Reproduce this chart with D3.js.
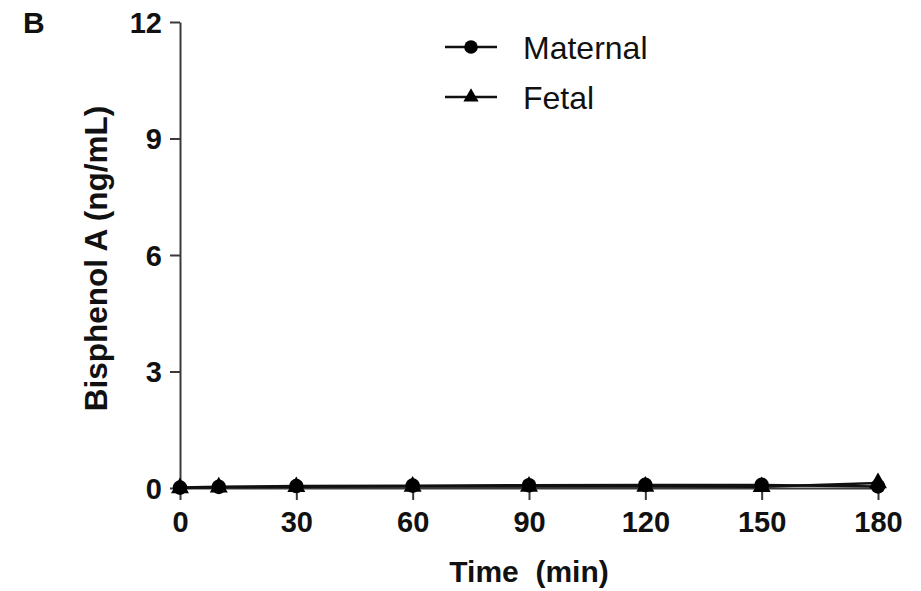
<!DOCTYPE html>
<html>
<head>
<meta charset="utf-8">
<script src="https://cdn.jsdelivr.net/npm/d3@7"></script>
<style>
  html, body { margin: 0; padding: 0; background: #fff; }
  svg { display: block; font-family: "Liberation Sans", Arial, sans-serif; }
</style>
</head>
<body>
<svg id="chart" width="921" height="591"></svg>
<script>
// Bisphenol A concentration over time (ng/mL)
const timePoints = [0, 10, 30, 60, 90, 120, 150, 180];
const maternal   = [0.01, 0.03, 0.05, 0.06, 0.07, 0.08, 0.08, 0.04];
const fetal      = [0.00, 0.02, 0.03, 0.04, 0.04, 0.04, 0.03, 0.13];
const xTicks = [0, 30, 60, 90, 120, 150, 180];
const yTicks = [0, 3, 6, 9, 12];
const seriesNames = ["Maternal", "Fetal"];

const svg = d3.select("#chart");
svg.append("rect").attr("width", 921).attr("height", 591).attr("fill", "#fff");

const x = d3.scaleLinear().domain([0, 180]).range([180, 878]);
const y = d3.scaleLinear().domain([0, 12]).range([488, 22]);

const axisColor = "#3a3a3a";
const textColor = "#111";

// y axis
const yAxis = svg.append("g")
  .attr("transform", `translate(${x(0)},0)`)
  .call(d3.axisLeft(y).tickValues(yTicks).tickSize(10).tickPadding(8).tickSizeOuter(0));
yAxis.select(".domain").attr("stroke", axisColor).attr("stroke-width", 2);
yAxis.selectAll(".tick line").attr("stroke", axisColor).attr("stroke-width", 2);
yAxis.selectAll(".tick text")
  .attr("font-size", 29).attr("font-weight", "bold").attr("fill", textColor)
  .attr("dy", "0.36em");

// x axis
const xAxis = svg.append("g")
  .attr("transform", `translate(0,${y(0)})`)
  .call(d3.axisBottom(x).tickValues(xTicks).tickSize(12).tickPadding(11).tickSizeOuter(0));
xAxis.select(".domain").attr("stroke", axisColor).attr("stroke-width", 2);
xAxis.selectAll(".tick line").attr("stroke", axisColor).attr("stroke-width", 2);
xAxis.selectAll(".tick text")
  .attr("font-size", 29).attr("font-weight", "bold").attr("fill", textColor);

// axis titles
svg.append("text")
  .attr("x", x(90)).attr("y", 582)
  .attr("text-anchor", "middle")
  .attr("font-size", 30).attr("font-weight", "bold").attr("fill", textColor)
  .attr("xml:space", "preserve")
  .text("Time  (min)");

svg.append("text")
  .attr("transform", `translate(107,${(105 + 412) / 2}) rotate(-90)`)
  .attr("text-anchor", "middle")
  .attr("font-size", 31.5).attr("font-weight", "bold").attr("fill", textColor)
  .text("Bisphenol A (ng/mL)");

// panel letter
svg.append("text")
  .attr("x", 23).attr("y", 33)
  .attr("font-size", 30).attr("font-weight", "bold").attr("fill", textColor)
  .text("B");

// series
const line = d3.line().x(d => x(d[0])).y(d => y(d[1]));
const tri = d3.symbol().type(d3.symbolTriangle).size(140);

const fetalPts = timePoints.map((t, i) => [t, fetal[i]]);
const maternalPts = timePoints.map((t, i) => [t, maternal[i]]);

svg.append("path").datum(fetalPts)
  .attr("d", line).attr("fill", "none").attr("stroke", "#111").attr("stroke-width", 2.5);
svg.append("path").datum(maternalPts)
  .attr("d", line).attr("fill", "none").attr("stroke", "#111").attr("stroke-width", 2.5);

svg.append("g").selectAll("path").data(fetalPts).join("path")
  .attr("d", tri)
  .attr("transform", d => `translate(${x(d[0])},${y(d[1])})`)
  .attr("fill", "#000");
svg.append("g").selectAll("circle").data(maternalPts).join("circle")
  .attr("cx", d => x(d[0])).attr("cy", d => y(d[1]))
  .attr("r", 7.3).attr("fill", "#000");

// legend
const legend = svg.append("g");
const legendRows = [
  { name: seriesNames[0], y: 47, marker: "circle" },
  { name: seriesNames[1], y: 97, marker: "triangle" }
];
legendRows.forEach(r => {
  legend.append("line")
    .attr("x1", 445).attr("x2", 497).attr("y1", r.y).attr("y2", r.y)
    .attr("stroke", "#111").attr("stroke-width", 2.3);
  if (r.marker === "circle") {
    legend.append("circle").attr("cx", 471).attr("cy", r.y).attr("r", 6.8).attr("fill", "#000");
  } else {
    legend.append("path").attr("d", d3.symbol().type(d3.symbolTriangle).size(100))
      .attr("transform", `translate(471,${r.y})`).attr("fill", "#000");
  }
  legend.append("text")
    .attr("x", 523).attr("y", r.y).attr("dy", "0.36em")
    .attr("font-size", 32).attr("fill", textColor)
    .text(r.name);
});
</script>
</body>
</html>
